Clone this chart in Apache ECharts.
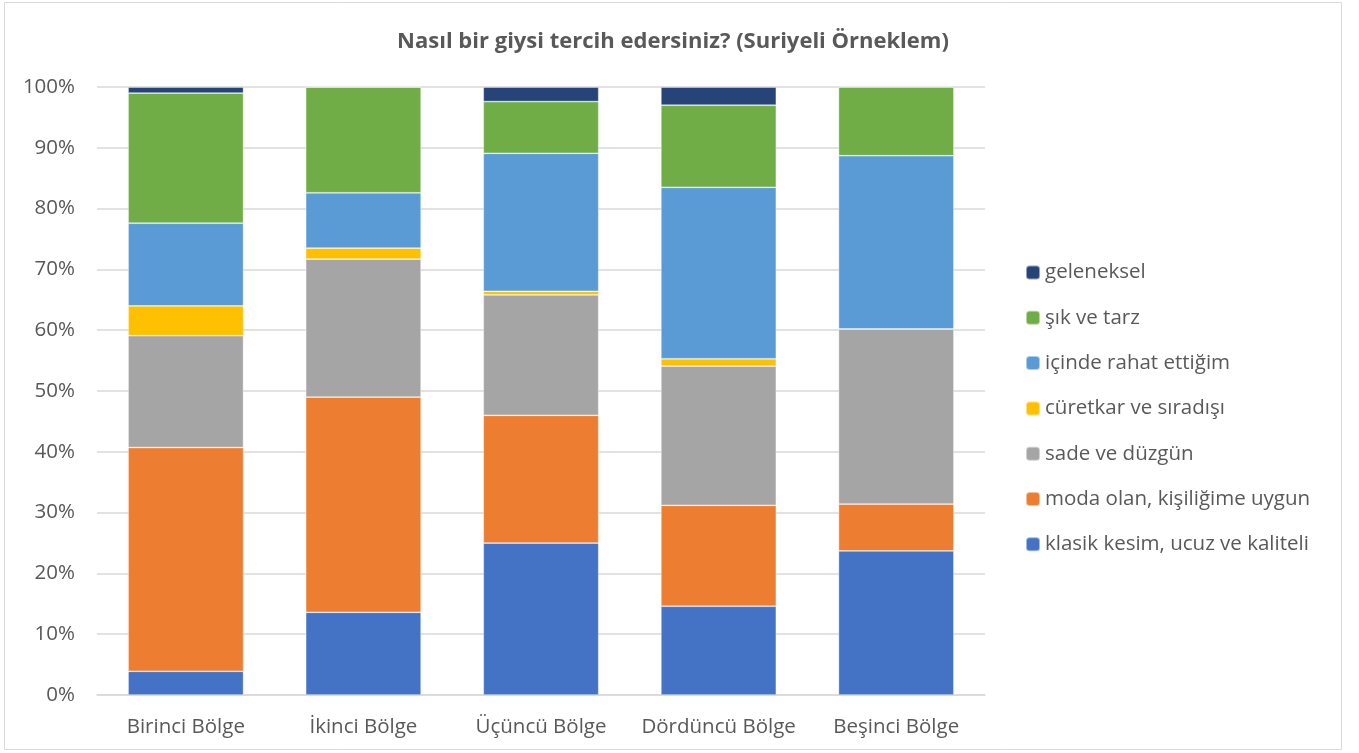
<!DOCTYPE html>
<html>
<head>
<meta charset="utf-8">
<script src="https://cdn.jsdelivr.net/npm/echarts@6/dist/echarts.min.js"></script>
<style>html,body{margin:0;padding:0;background:#fff;}#c{width:1359px;height:753px;}</style>
</head>
<body>
<div id="c"></div>
<script>
const categories = ['Birinci Bölge', 'İkinci Bölge', 'Üçüncü Bölge', 'Dördüncü Bölge', 'Beşinci Bölge'];
const seriesNames = ['klasik kesim, ucuz ve kaliteli', 'moda olan, kişiliğime uygun', 'sade ve düzgün', 'cüretkar ve sıradışı', 'içinde rahat ettiğim', 'şık ve tarz', 'geleneksel'];
const klasik = [3.9, 13.6, 25.0, 14.6, 23.7];
const moda = [36.8, 35.4, 21.0, 16.6, 7.7];
const sade = [18.4, 22.7, 19.8, 22.9, 28.8];
const curetkar = [4.9, 1.8, 0.6, 1.2, 0];
const rahat = [13.6, 9.1, 22.7, 28.2, 28.5];
const sik = [21.4, 17.4, 8.5, 13.5, 11.3];
const geleneksel = [1.0, 0, 2.4, 3.0, 0];
const yTicks = ['0%', '10%', '20%', '30%', '40%', '50%', '60%', '70%', '80%', '90%', '100%'];
const colors = ['#4472C4', '#ED7D31', '#A5A5A5', '#FFC000', '#5B9BD5', '#70AD47', '#264478'];
const values = [klasik, moda, sade, curetkar, rahat, sik, geleneksel];

const font = '"Open Sans", "DejaVu Sans", sans-serif';
const chart = echarts.init(document.getElementById('c'));
chart.setOption({
  animation: false,
  backgroundColor: '#fff',
  title: {
    text: 'Nasıl bir giysi tercih edersiniz? (Suriyeli Örneklem)',
    left: 673, top: 31, textAlign: 'center', padding: 0,
    textStyle: { fontFamily: font, fontSize: 22, fontWeight: 'bold', color: '#595959' }
  },
  graphic: [{
    type: 'rect', shape: { x: 4.5, y: 2.5, width: 1337, height: 747 },
    style: { fill: 'none', stroke: '#d9d9d9', lineWidth: 1 }, silent: true
  }],
  legend: {
    orient: 'vertical', left: 1025, top: 262, padding: 0,
    itemWidth: 14, itemHeight: 14, itemGap: 24.3,
    data: seriesNames.slice().reverse(),
    textStyle: { fontFamily: font, fontSize: 20.5, color: '#595959' }
  },
  grid: { left: 97, right: 374, top: 87, bottom: 58 },
  xAxis: {
    type: 'category', data: categories,
    axisLine: { lineStyle: { color: '#d9d9d9', width: 1.5 } },
    axisTick: { show: false },
    axisLabel: { fontFamily: font, fontSize: 20.5, color: '#595959', margin: 22, interval: 0 }
  },
  yAxis: {
    type: 'value', min: 0, max: 100, interval: 10,
    axisLine: { show: false }, axisTick: { show: false },
    splitLine: { lineStyle: { color: '#d9d9d9', width: 1.5 } },
    axisLabel: { fontFamily: font, fontSize: 20.5, color: '#595959', margin: 22,
      formatter: v => yTicks[Math.round(v / 10)] }
  },
  series: seriesNames.map((n, i) => ({
    name: n, type: 'bar', stack: 'total', data: values[i],
    barCategoryGap: '35%',
    itemStyle: { color: colors[i], borderColor: 'rgba(255,255,255,0.5)', borderWidth: 0.75 }
  }))
});
</script>
</body>
</html>
